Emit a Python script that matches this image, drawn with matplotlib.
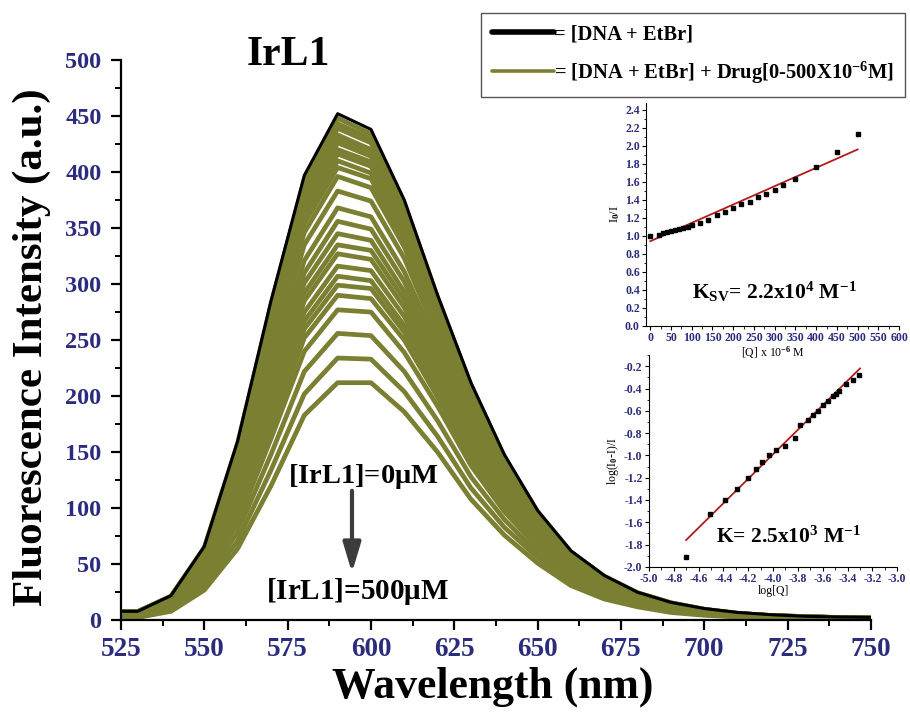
import numpy as np
import matplotlib
matplotlib.use("Agg")
import matplotlib.pyplot as plt
from matplotlib.lines import Line2D
from matplotlib.ticker import MultipleLocator, FormatStrFormatter


# =========================
# DADOS
# =========================
wavelengths = [525, 530, 540, 550, 560, 570, 580, 590, 600, 610, 620, 630,
               640, 650, 660, 670, 680, 690, 700, 710, 720, 730, 740, 750]

# [DNA + EtBr]
black_curve = [8, 8, 22, 66, 160, 285, 397, 452, 438, 375, 290, 212,
               148, 98, 62, 40, 25, 16, 10.5, 7, 5, 3.6, 3, 2.6]

# concentracao do farmaco (uM), uma curva por linha
conc_uM = [0, 20, 30, 40, 50, 60, 70, 80, 90, 100, 120, 140, 160, 180, 200,
           220, 240, 260, 280, 300, 320, 350, 400, 450, 500]

green_curves = [
    [7.8, 7.8, 21.5, 65, 158, 282, 393, 448, 434, 372, 288, 210, 146, 97, 61, 39.4, 24.6, 15.7, 9.9, 6.3, 4.3, 3.4, 2.5, 2.0],
    [7.9, 7.8, 21.5, 64, 156, 278, 389, 443, 430, 368, 285, 208, 145, 96, 61, 39.0, 24.4, 15.5, 9.7, 6.2, 4.2, 3.3, 2.4, 1.9],
    [7.8, 7.7, 21.3, 64, 155, 275, 385, 439, 426, 365, 283, 207, 144, 96, 60, 38.7, 24.2, 15.3, 9.7, 6.1, 4.2, 3.3, 2.5, 2.0],
    [7.7, 7.6, 20.9, 63, 152, 271, 380, 433, 420, 361, 280, 204, 142, 95, 60, 38.2, 23.9, 15.1, 9.5, 6.1, 4.1, 3.2, 2.4, 1.9],
    [7.6, 7.5, 20.7, 62, 150, 269, 377, 430, 418, 359, 278, 203, 142, 94, 59, 37.9, 23.7, 15.0, 9.5, 6.0, 4.1, 3.2, 2.4, 1.9],
    [7.5, 7.4, 20.5, 61, 149, 266, 373, 426, 414, 355, 276, 201, 140, 93, 59, 37.6, 23.5, 14.9, 9.4, 6.0, 4.0, 3.2, 2.4, 1.9],
    [7.4, 7.3, 20.0, 60, 146, 261, 368, 420, 409, 351, 273, 199, 139, 92, 58, 37.1, 23.2, 14.6, 9.2, 5.9, 4.0, 3.2, 2.4, 1.9],
    [7.3, 7.1, 19.7, 60, 144, 258, 364, 416, 405, 348, 271, 197, 138, 92, 57.5, 36.7, 23.0, 14.4, 9.2, 5.8, 4.0, 3.1, 2.3, 1.9],
    [7.1, 7.0, 19.4, 59, 142, 254, 359, 410, 399, 343, 268, 195, 136, 90, 56.8, 36.2, 22.7, 14.2, 9.0, 5.7, 3.9, 3.1, 2.3, 1.8],
    [7.0, 6.8, 19.0, 58, 139, 250, 354, 404, 394, 339, 264, 193, 134, 89, 56.0, 35.7, 22.4, 14.0, 8.9, 5.7, 3.8, 3.0, 2.3, 1.8],
    [6.8, 6.6, 18.4, 56, 135, 244, 346, 396, 386, 333, 260, 189, 132, 88, 55.0, 35.0, 22.0, 13.7, 8.7, 5.5, 3.8, 3.0, 2.2, 1.8],
    [6.5, 6.3, 17.6, 54, 130, 234, 335, 383, 374, 323, 253, 184, 129, 86, 53.4, 33.9, 21.3, 13.2, 8.4, 5.4, 3.6, 2.9, 2.1, 1.7],
    [6.1, 5.9, 16.7, 51, 124, 224, 321, 368, 360, 311, 245, 178, 124, 83, 51.5, 32.6, 20.5, 12.6, 8.1, 5.2, 3.5, 2.8, 2.1, 1.7],
    [5.9, 5.6, 15.9, 49, 119, 215, 310, 356, 349, 302, 238, 173, 121, 80, 50.0, 31.6, 19.9, 12.2, 7.8, 5.0, 3.4, 2.7, 2.0, 1.6],
    [5.6, 5.3, 15.2, 47, 114, 208, 301, 345, 339, 293, 231, 168, 118, 78, 48.6, 30.7, 19.3, 11.8, 7.6, 4.8, 3.3, 2.6, 1.9, 1.6],
    [5.4, 5.1, 14.6, 46, 110, 201, 292, 335, 330, 286, 226, 164, 115, 76, 47.3, 29.8, 18.7, 11.4, 7.4, 4.7, 3.2, 2.5, 1.9, 1.5],
    [5.2, 4.9, 14.2, 45, 107, 195, 285, 327, 322, 279, 221, 160, 112, 75, 46.3, 29.1, 18.3, 11.1, 7.2, 4.6, 3.1, 2.5, 1.8, 1.5],
    [5.0, 4.6, 13.5, 43, 102, 188, 275, 316, 312, 271, 215, 155, 109, 73, 44.9, 28.2, 17.7, 10.7, 7.0, 4.4, 3.0, 2.4, 1.8, 1.4],
    [4.8, 4.4, 13.0, 41, 99, 182, 267, 307, 303, 263, 209, 151, 106, 71, 43.7, 27.4, 17.3, 10.4, 6.8, 4.3, 2.9, 2.3, 1.7, 1.4],
    [4.6, 4.3, 12.6, 40, 96, 176, 260, 299, 296, 257, 204, 148, 104, 69, 42.7, 26.7, 16.8, 10.1, 6.6, 4.2, 2.8, 2.2, 1.7, 1.4],
    [4.4, 4.1, 12.1, 39, 92, 170, 252, 290, 287, 250, 199, 144, 101, 67, 41.5, 25.9, 16.3, 9.8, 6.4, 4.1, 2.8, 2.2, 1.6, 1.3],
    [4.2, 3.8, 11.4, 37, 87, 162, 240, 277, 275, 239, 191, 138, 97, 65, 39.7, 24.8, 15.6, 9.3, 6.1, 3.9, 2.6, 2.1, 1.6, 1.3],
    [3.8, 3.4, 10.3, 33, 79, 148, 222, 256, 254, 222, 178, 128, 90, 60, 36.9, 22.9, 14.5, 8.5, 5.6, 3.6, 2.4, 1.9, 1.4, 1.2],
    [3.4, 2.9, 9.1, 30, 71, 134, 202, 234, 233, 204, 164, 118, 83, 56, 34.0, 21.0, 13.3, 7.8, 5.1, 3.3, 2.2, 1.8, 1.3, 1.1],
    [3.0, 2.5, 8.0, 27, 64, 120, 183, 212, 212, 186, 150, 108, 76, 51, 31.0, 19.0, 12.0, 7.0, 4.5, 3.0, 2.0, 1.6, 1.2, 1.0],
]

# Stern-Volmer (inset superior)
sv_conc = [0, 20, 30, 40, 50, 60, 70, 80, 90, 100, 120, 140, 160, 180, 200,
           220, 240, 260, 280, 300, 320, 350, 400, 450, 500]
sv_ratio = [1.00, 1.01, 1.03, 1.045, 1.05, 1.06, 1.075, 1.085, 1.10, 1.12,
            1.14, 1.18, 1.23, 1.27, 1.31, 1.35, 1.38, 1.43, 1.47, 1.51,
            1.56, 1.63, 1.76, 1.93, 2.13]
sv_fit_x = [0, 500]
sv_fit_y = [0.94, 1.96]

# log-log (inset inferior)
log_q = [-4.70, -4.51, -4.39, -4.29, -4.20, -4.14, -4.09, -4.03, -3.98, -3.90,
         -3.82, -3.78, -3.72, -3.68, -3.64, -3.60, -3.56, -3.52, -3.49, -3.47,
         -3.41, -3.36, -3.31]
log_ratio = [-1.91, -1.53, -1.40, -1.30, -1.20, -1.12, -1.06, -1.00, -0.95, -0.92,
             -0.84, -0.73, -0.68, -0.64, -0.60, -0.55, -0.51, -0.47, -0.45, -0.42,
             -0.36, -0.32, -0.28]
log_fit_x = [-4.70, -3.30]
log_fit_y = [-1.76, -0.22]


# =========================
# ESTILO
# =========================
OLIVE = "#7b7f32"
NAVY = "#2c2c7e"
RED = "#b01c1c"

plt.rcParams["font.family"] = ["Liberation Serif", "DejaVu Serif"]
plt.rcParams["font.weight"] = "bold"
plt.rcParams["mathtext.fontset"] = "custom"
plt.rcParams["mathtext.rm"] = "Liberation Serif:bold"
plt.rcParams["mathtext.it"] = "Liberation Serif:bold"
plt.rcParams["mathtext.bf"] = "Liberation Serif:bold"

fig = plt.figure(figsize=(9.1, 7.13), dpi=100)


# =========================
# GRAFICO PRINCIPAL
# =========================
ax = fig.add_axes([0.133, 0.130, 0.824, 0.786])

for linha in green_curves:
    ax.plot(wavelengths, linha, color=OLIVE, lw=3.4, zorder=2)
ax.plot(wavelengths, black_curve, color="black", lw=2.2, zorder=3)

ax.set_xlim(525, 750)
ax.set_ylim(0, 500)
ax.xaxis.set_major_locator(MultipleLocator(25))
ax.xaxis.set_minor_locator(MultipleLocator(12.5))
ax.yaxis.set_major_locator(MultipleLocator(50))
ax.yaxis.set_minor_locator(MultipleLocator(25))

for s in ["top", "right"]:
    ax.spines[s].set_visible(False)
for s in ["left", "bottom"]:
    ax.spines[s].set_linewidth(1.6)

ax.tick_params(which="major", direction="out", length=7, width=1.6,
               labelsize=17.5, labelcolor=NAVY, pad=7)
ax.tick_params(which="minor", direction="out", length=4, width=1.4)
ax.tick_params(axis="x", which="major", labelsize=19.5, pad=5)

ax.set_xlabel("Wavelength (nm)", fontsize=31.5, fontweight="bold")
ax.xaxis.set_label_coords(0.495, -0.082)
ax.set_ylabel("Fluorescence Intensity (a.u.)", fontsize=31, fontweight="bold")
ax.yaxis.set_label_coords(-0.093, 0.488)

ax.text(597.6, 128, r"[IrL1]=0$\mu$M", fontsize=20.5, ha="center", va="center")
ax.text(596, 26, r"[IrL1]=500$\mu$M", fontsize=21, ha="center", va="center")
ax.annotate("", xy=(594.3, 40), xytext=(594.3, 118),
            arrowprops=dict(arrowstyle="-|>,head_length=0.9,head_width=0.27",
                            lw=3, color="#3c3c3c", mutation_scale=20))

fig.text(288 / 910, 1 - 55 / 713, "IrL1", fontsize=30, ha="center", va="center")

handles = [Line2D([], [], color="black", lw=4, solid_capstyle="round"),
           Line2D([], [], color=OLIVE, lw=2.6, solid_capstyle="round")]
labels = ["= [DNA + EtBr]", r"= [DNA + EtBr] + Drug[0-500X10$^{-6}$M]"]
leg = fig.legend(handles, labels, loc="upper right",
                 bbox_to_anchor=(0.9945, 0.982), fontsize=14.8,
                 handlelength=3.0, handletextpad=0.0, labelspacing=0.75,
                 borderpad=0.55, borderaxespad=0.0, fancybox=False,
                 framealpha=1, edgecolor="#555555")
leg.get_frame().set_linewidth(1.0)


# =========================
# INSET 1: Stern-Volmer
# =========================
ins1 = fig.add_axes([0.710, 0.543, 0.278, 0.313], facecolor="none")
ins1.plot(sv_conc, sv_ratio, "s", color="black", ms=3.2, zorder=3)
ins1.plot(sv_fit_x, sv_fit_y, color=RED, lw=1.3, zorder=2)
ins1.set_xlim(-10, 600)
ins1.set_ylim(0, 2.48)
ins1.xaxis.set_major_locator(MultipleLocator(50))
ins1.xaxis.set_minor_locator(MultipleLocator(25))
ins1.yaxis.set_major_locator(MultipleLocator(0.2))
ins1.yaxis.set_minor_locator(MultipleLocator(0.1))
ins1.yaxis.set_major_formatter(FormatStrFormatter("%.1f"))
ins1.set_xlabel(r"[Q] x 10$^{-6}$ M", fontsize=8.5, labelpad=0)
ins1.set_ylabel(r"I$_0$/I", fontsize=9, labelpad=2)
ins1.text(300, 0.38, r"K$_{\mathrm{SV}}$= 2.2x10$^{4}$ M$^{-1}$",
          fontsize=15.5, ha="center", va="center")

# =========================
# INSET 2: log-log
# =========================
ins2 = fig.add_axes([0.713, 0.205, 0.273, 0.297], facecolor="none")
ins2.plot(log_q, log_ratio, "s", color="black", ms=3.2, zorder=3)
ins2.plot(log_fit_x, log_fit_y, color=RED, lw=1.3, zorder=2)
ins2.set_xlim(-5.0, -3.0)
ins2.set_ylim(-2.0, -0.1)
ins2.xaxis.set_major_locator(MultipleLocator(0.2))
ins2.xaxis.set_minor_locator(MultipleLocator(0.1))
ins2.yaxis.set_major_locator(MultipleLocator(0.2))
ins2.yaxis.set_minor_locator(MultipleLocator(0.1))
ins2.xaxis.set_major_formatter(FormatStrFormatter("%.1f"))
ins2.yaxis.set_major_formatter(FormatStrFormatter("%.1f"))
ins2.set_xlabel("log[Q]", fontsize=8.5, labelpad=0)
ins2.set_ylabel(r"log(I$_0$-I)/I", fontsize=8.5, labelpad=2)
ins2.text(-3.88, -1.73, r"K= 2.5x10$^{3}$ M$^{-1}$",
          fontsize=15.5, ha="center", va="center")

for a in (ins1, ins2):
    for s in ["top", "right"]:
        a.spines[s].set_visible(False)
    for s in ["left", "bottom"]:
        a.spines[s].set_linewidth(0.8)
    a.tick_params(which="major", direction="out", length=3, width=0.8,
                  labelsize=8.5, labelcolor=NAVY, pad=1.5)
    a.tick_params(which="minor", direction="out", length=1.8, width=0.6)

fig.savefig("out.png", dpi=100)
